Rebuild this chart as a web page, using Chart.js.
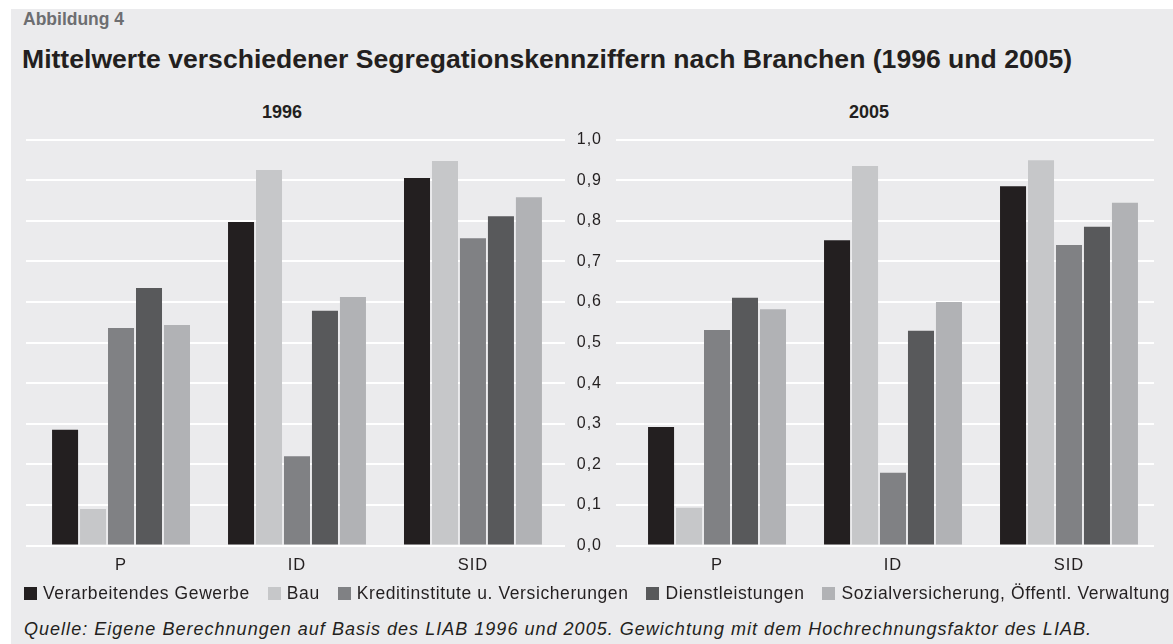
<!DOCTYPE html>
<html>
<head>
<meta charset="utf-8">
<script src="https://cdn.jsdelivr.net/npm/chart.js@4.4.1/dist/chart.umd.min.js"></script>
<style>
  html, body { margin: 0; padding: 0; background: #ffffff; }
  body { width: 1173px; height: 644px; position: relative; overflow: hidden; font-family: "Liberation Sans", Arial, sans-serif; color: #231f20; }
  #panel { position: absolute; left: 11px; top: 9px; right: 0; bottom: 0; background: #ebebed; }
  .txt { position: absolute; white-space: nowrap; line-height: 1; }
  #fig { left: 23px; top: 11px; font-size: 17.5px; font-weight: bold; color: #6d6e71; }
  #title { left: 22px; top: 46px; font-size: 26px; font-weight: bold; }
  .sub { font-size: 18px; font-weight: bold; top: 102.8px; transform: translateX(-50%); }
  #legend { position: absolute; left: 24px; top: 585px; height: 17px; display: flex; align-items: center; font-size: 17.5px; white-space: nowrap; }
  .li { display: flex; align-items: center; margin-right: 18px; }
  .sw { width: 13px; height: 13px; margin-right: 6px; flex: none; }
  #foot { left: 24px; top: 620px; font-size: 18px; font-style: italic; }
  canvas { position: absolute; }
</style>
</head>
<body>
<div id="panel"></div>
<div class="txt" id="fig">Abbildung 4</div>
<div class="txt" id="title">Mittelwerte verschiedener Segregationskennziffern nach Branchen (1996 und 2005)</div>
<div class="txt sub" id="sub1" style="left:282px">1996</div>
<div class="txt sub" id="sub2" style="left:869px">2005</div>
<div id="wrap1" style="position:absolute;left:0;top:100px;width:600px;height:490px"><canvas id="c1"></canvas></div>
<div id="wrap2" style="position:absolute;left:560px;top:100px;width:613px;height:490px"><canvas id="c2"></canvas></div>
<div id="legend"></div>
<div class="txt" id="foot">Quelle: Eigene Berechnungen auf Basis des LIAB 1996 und 2005. Gewichtung mit dem Hochrechnungsfaktor des LIAB.</div>
<script>
// ---- data ----
const categories = ['P', 'ID', 'SID'];
const seriesNames = ['Verarbeitendes Gewerbe', 'Bau', 'Kreditinstitute u. Versicherungen', 'Dienstleistungen', 'Sozialversicherung, Öffentl. Verwaltung'];
const seriesColors = ['#231f20', '#c6c7c9', '#808184', '#58595b', '#b1b2b5'];
// values per series: [P, ID, SID]
const v1996_verarbeitend = [0.285, 0.797, 0.905];
const v1996_bau          = [0.090, 0.925, 0.947];
const v1996_kredit       = [0.536, 0.220, 0.757];
const v1996_dienst       = [0.634, 0.578, 0.811];
const v1996_sozial       = [0.543, 0.612, 0.858];
const v2005_verarbeitend = [0.292, 0.752, 0.885];
const v2005_bau          = [0.093, 0.935, 0.949];
const v2005_kredit       = [0.531, 0.179, 0.740];
const v2005_dienst       = [0.610, 0.529, 0.785];
const v2005_sozial       = [0.582, 0.600, 0.844];
const yTickLabels = ['0,0','0,1','0,2','0,3','0,4','0,5','0,6','0,7','0,8','0,9','1,0'];

const series1996 = [v1996_verarbeitend, v1996_bau, v1996_kredit, v1996_dienst, v1996_sozial];
const series2005 = [v2005_verarbeitend, v2005_bau, v2005_kredit, v2005_dienst, v2005_sozial];

const FONT = '"Liberation Sans", Arial, sans-serif';
const letterSpacingPlugin = {
  id: 'ls',
  beforeDraw(chart) { try { chart.ctx.letterSpacing = '1px'; } catch (e) {} }
};

function makeChart(canvasId, series, opts) {
  const datasets = series.map((vals, s) => ({
    label: seriesNames[s],
    data: vals.map((v, i) => ({ x: i, y: v })),
    backgroundColor: seriesColors[s],
    borderWidth: 0,
    categoryPercentage: 0.795,
    barPercentage: 0.93
  }));
  return new Chart(document.getElementById(canvasId), {
    type: 'bar',
    data: { datasets },
    plugins: [letterSpacingPlugin],
    options: {
      responsive: true,
      maintainAspectRatio: false,
      animation: false,
      events: [],
      layout: { padding: opts.padding },
      plugins: { legend: { display: false }, tooltip: { enabled: false }, title: { display: false } },
      scales: {
        x: {
          type: 'linear',
          min: opts.xmin, max: opts.xmax,
          offset: false,
          grid: { display: false },
          border: { display: false },
          afterBuildTicks: (s) => { s.ticks = categories.map((c, i) => ({ value: i })); },
          afterFit: (s) => { s.height = 40; },
          ticks: {
            autoSkip: false, maxRotation: 0, padding: 2,
            color: '#231f20', font: { family: FONT, size: 16.5 },
            callback: (v) => categories[v]
          }
        },
        y: {
          min: 0, max: 1,
          grid: { color: '#ffffff', lineWidth: 2, drawTicks: false },
          border: { display: false },
          afterFit: (s) => { s.width = opts.yWidth; },
          ticks: {
            display: opts.showY, stepSize: 0.1, padding: 14,
            color: '#231f20', font: { family: FONT, size: 16 },
            callback: (v) => yTickLabels[Math.round(v * 10)]
          }
        }
      }
    }
  });
}

makeChart('c1', series1996, {
  padding: { left: 26, right: 35, top: 39.5, bottom: 4.5 },
  xmin: -0.54, xmax: 2.523, yWidth: 0, showY: false
});
makeChart('c2', series2005, {
  padding: { left: 0, right: 19, top: 39.5, bottom: 4.5 },
  xmin: -0.574, xmax: 2.483, yWidth: 56, showY: true
});

// legend
const leg = document.getElementById('legend');
seriesNames.forEach((n, i) => {
  const it = document.createElement('div');
  it.className = 'li';
  if (i === seriesNames.length - 1) it.style.marginRight = '0';
  const sw = document.createElement('div');
  sw.className = 'sw';
  sw.style.background = seriesColors[i];
  const t = document.createElement('span');
  t.textContent = n;
  it.appendChild(sw); it.appendChild(t);
  leg.appendChild(it);
});

function fitSpacing(el, target) {
  el.style.letterSpacing = '0px';
  const w = el.getBoundingClientRect().width;
  const n = el.textContent.length;
  el.style.letterSpacing = ((target - w) / n) + 'px';
}
function fitSize(el, target) {
  const fs = parseFloat(getComputedStyle(el).fontSize);
  const w = el.getBoundingClientRect().width;
  el.style.fontSize = (fs * target / w) + 'px';
}
fitSize(document.getElementById('title'), 1051);
fitSpacing(document.getElementById('foot'), 1068);
fitSpacing(leg, 1146);
</script>
</body>
</html>
